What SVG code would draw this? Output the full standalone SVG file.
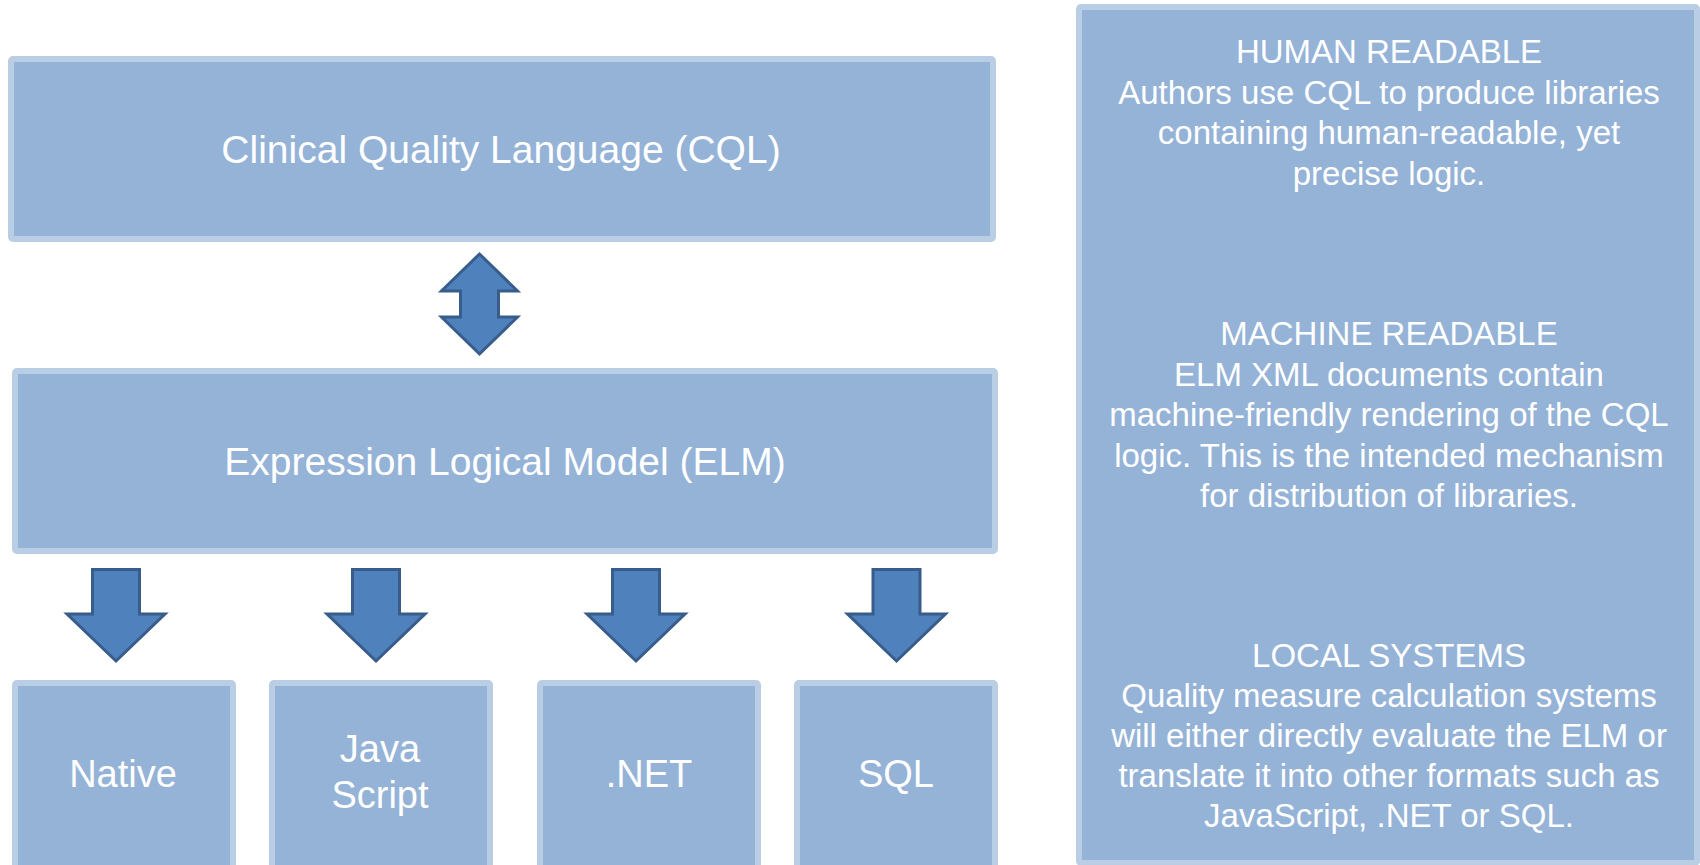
<svg xmlns="http://www.w3.org/2000/svg" width="1700" height="865" viewBox="0 0 1700 865">
  <style>
    .box { fill: #95b3d7; stroke: #b9cde5; stroke-width: 6; }
    .arrow { fill: #4f81bd; stroke: #385d8a; stroke-width: 3; stroke-linejoin: miter; }
    .lbl { font-family: "Liberation Sans", Arial, sans-serif; font-size: 38px; fill: #ffffff; text-anchor: middle; }
    .big { font-size: 39px; }
    .note { font-family: "Liberation Sans", Arial, sans-serif; font-size: 33px; fill: #ffffff; text-anchor: middle; }
  </style>
  <defs>
    <!-- block arrow pointing down, centred on x = 0 -->
    <path id="down-arrow" d="M -23.5 569.5 L 23.5 569.5 L 23.5 614 L 49 614 L 0 661 L -49 614 L -23.5 614 Z"/>
  </defs>
  <rect width="1700" height="865" fill="#ffffff"/>

  <g id="cql">
    <rect class="box" x="11" y="59" width="982" height="180" rx="2"/>
    <text class="lbl big" x="501" y="162.5">Clinical Quality Language (CQL)</text>
  </g>

  <g id="elm">
    <rect class="box" x="15" y="371" width="980" height="180" rx="2"/>
    <text class="lbl big" x="505" y="475">Expression Logical Model (ELM)</text>
  </g>

  <g id="native">
    <rect class="box" x="15" y="683" width="218" height="190" rx="2"/>
    <text class="lbl" x="123" y="787">Native</text>
  </g>

  <g id="javascript">
    <rect class="box" x="272" y="683" width="218" height="190" rx="2"/>
    <text class="lbl" x="380" y="762">Java</text>
    <text class="lbl" x="380" y="808">Script</text>
  </g>

  <g id="dotnet">
    <rect class="box" x="540" y="683" width="218" height="190" rx="2"/>
    <text class="lbl" x="649" y="787">.NET</text>
  </g>

  <g id="sql">
    <rect class="box" x="797" y="683" width="198" height="190" rx="2"/>
    <text class="lbl" x="896" y="787">SQL</text>
  </g>

  <g id="notes">
    <rect class="box" x="1079" y="7" width="618" height="856" rx="2"/>
    <text class="note" x="1389" y="63">HUMAN READABLE</text>
    <text class="note" x="1389" y="103.5">Authors use CQL to produce libraries</text>
    <text class="note" x="1389" y="144">containing human-readable, yet</text>
    <text class="note" x="1389" y="184.5">precise logic.</text>

    <text class="note" x="1389" y="345">MACHINE READABLE</text>
    <text class="note" x="1389" y="385.5">ELM XML documents contain</text>
    <text class="note" x="1389" y="426">machine-friendly rendering of the CQL</text>
    <text class="note" x="1389" y="466.5">logic. This is the intended mechanism</text>
    <text class="note" x="1389" y="507">for distribution of libraries.</text>

    <text class="note" x="1389" y="667">LOCAL SYSTEMS</text>
    <text class="note" x="1389" y="707">Quality measure calculation systems</text>
    <text class="note" x="1389" y="747">will either directly evaluate the ELM or</text>
    <text class="note" x="1389" y="787">translate it into other formats such as</text>
    <text class="note" x="1389" y="827">JavaScript, .NET or SQL.</text>
  </g>

  <g id="connectors">
    <!-- two-way translation between CQL and ELM -->
    <path class="arrow" d="M 479.5 254 L 517.5 291 L 498.5 291 L 498.5 317 L 517.5 317 L 479.5 354 L 441.5 317 L 460.5 317 L 460.5 291 L 441.5 291 Z"/>
    <!-- ELM to each target platform -->
    <use class="arrow" href="#down-arrow" x="116"/>
    <use class="arrow" href="#down-arrow" x="376"/>
    <use class="arrow" href="#down-arrow" x="636"/>
    <use class="arrow" href="#down-arrow" x="896.5"/>
  </g>
</svg>
